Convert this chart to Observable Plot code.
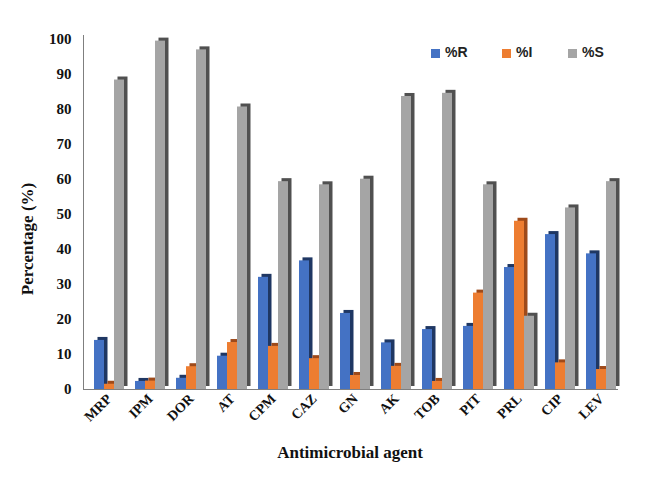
<!DOCTYPE html>
<html>
<head>
<meta charset="utf-8">
<script src="https://cdn.jsdelivr.net/npm/d3@7"></script>
<script src="https://cdn.jsdelivr.net/npm/@observablehq/plot@0.6"></script>
<style>
  body { margin: 0; background: #fff; }
  #wrap { position: relative; width: 650px; height: 490px; }
  #legend { position: absolute; left: 431px; top: 44px; font-family: "Liberation Sans", Arial, sans-serif; font-weight: bold; font-size: 14px; color: #222; }
  #legend span.item { position: absolute; top: 0; white-space: nowrap; }
  #legend i { display: inline-block; width: 9px; height: 9px; margin-right: 5px; vertical-align: -1px; }
  .lab { position: absolute; font-family: "Liberation Serif", "Times New Roman", serif; font-weight: bold; font-size: 17px; color: #111; white-space: nowrap; }
  #ylab { left: 28px; top: 239px; transform: translate(-50%, -50%) rotate(-90deg); }
  #xlab { left: 350px; top: 453px; transform: translate(-50%, -50%); }
</style>
</head>
<body>
<div id="wrap"><div id="legend"></div><div id="ylab" class="lab">Percentage (%)</div><div id="xlab" class="lab">Antimicrobial agent</div></div>
<script>
const categories = ["MRP", "IPM", "DOR", "AT", "CPM", "CAZ", "GN", "AK", "TOB", "PIT", "PRL", "CIP", "LEV"];
const pctR = [14, 2.3, 3.2, 9.5, 32, 36.7, 21.7, 13.3, 17.1, 18, 34.8, 44.2, 38.7];
const pctI = [1.5, 2.4, 6.5, 13.4, 12.3, 8.8, 4, 6.6, 2.3, 27.5, 48, 7.6, 5.7];
const pctS = [88.3, 99.4, 96.9, 80.6, 59.3, 58.4, 60, 83.6, 84.5, 58.4, 20.9, 51.8, 59.3];
const seriesNames = ["%R", "%I", "%S"];
const seriesColors = ["#4472C4", "#ED7D31", "#A5A5A5"];
const sideColors = ["#1F3763", "#9E4A1A", "#505050"];
const yTicks = [0, 10, 20, 30, 40, 50, 60, 70, 80, 90, 100];

const rows = categories.map((c, i) => ({cat: c, R: pctR[i], I: pctI[i], S: pctS[i]}));
const keys = ["R", "I", "S"];
const bw = 10;

const marks = [];
keys.forEach((k, j) => {
  const off = (j - 1) * bw;
  marks.push(Plot.barY(rows, {x: "cat", y: k, fill: sideColors[j], dx: off + 3.5, dy: -3}));
  marks.push(Plot.barY(rows, {x: "cat", y: k, fill: seriesColors[j], dx: off}));
});

const chart = Plot.plot({
  width: 650,
  height: 490,
  marginLeft: 83,
  marginRight: 32,
  marginTop: 35,
  marginBottom: 101,
  style: {fontFamily: "'Liberation Serif', 'Times New Roman', serif", fontWeight: "bold", fontSize: "14px", color: "#111", background: "transparent"},
  x: {domain: categories, paddingInner: 0.75, paddingOuter: 0.385, align: 0.635, tickRotate: -45, tickSize: 0, tickPadding: 7, label: null},
  y: {domain: [0, 101], ticks: yTicks, tickSize: 0, tickPadding: 12, label: null},
  marks: [
    ...marks,
    Plot.ruleY([0], {stroke: "#7f7f7f", strokeWidth: 1}),
    Plot.frame({anchor: "left", stroke: "#7f7f7f"})
  ]
});
document.getElementById("wrap").prepend(chart);
d3.select(chart).selectAll('g[aria-label="y-axis tick label"] text, g[aria-label="y-axis tick label"]').attr("font-size", 15);

const legend = document.getElementById("legend");
const lx = [0, 71, 137];
seriesNames.forEach((n, j) => {
  const s = document.createElement("span");
  s.className = "item";
  s.style.left = lx[j] + "px";
  s.innerHTML = `<i style="background:${seriesColors[j]}"></i>${n}`;
  legend.appendChild(s);
});
</script>
</body>
</html>
